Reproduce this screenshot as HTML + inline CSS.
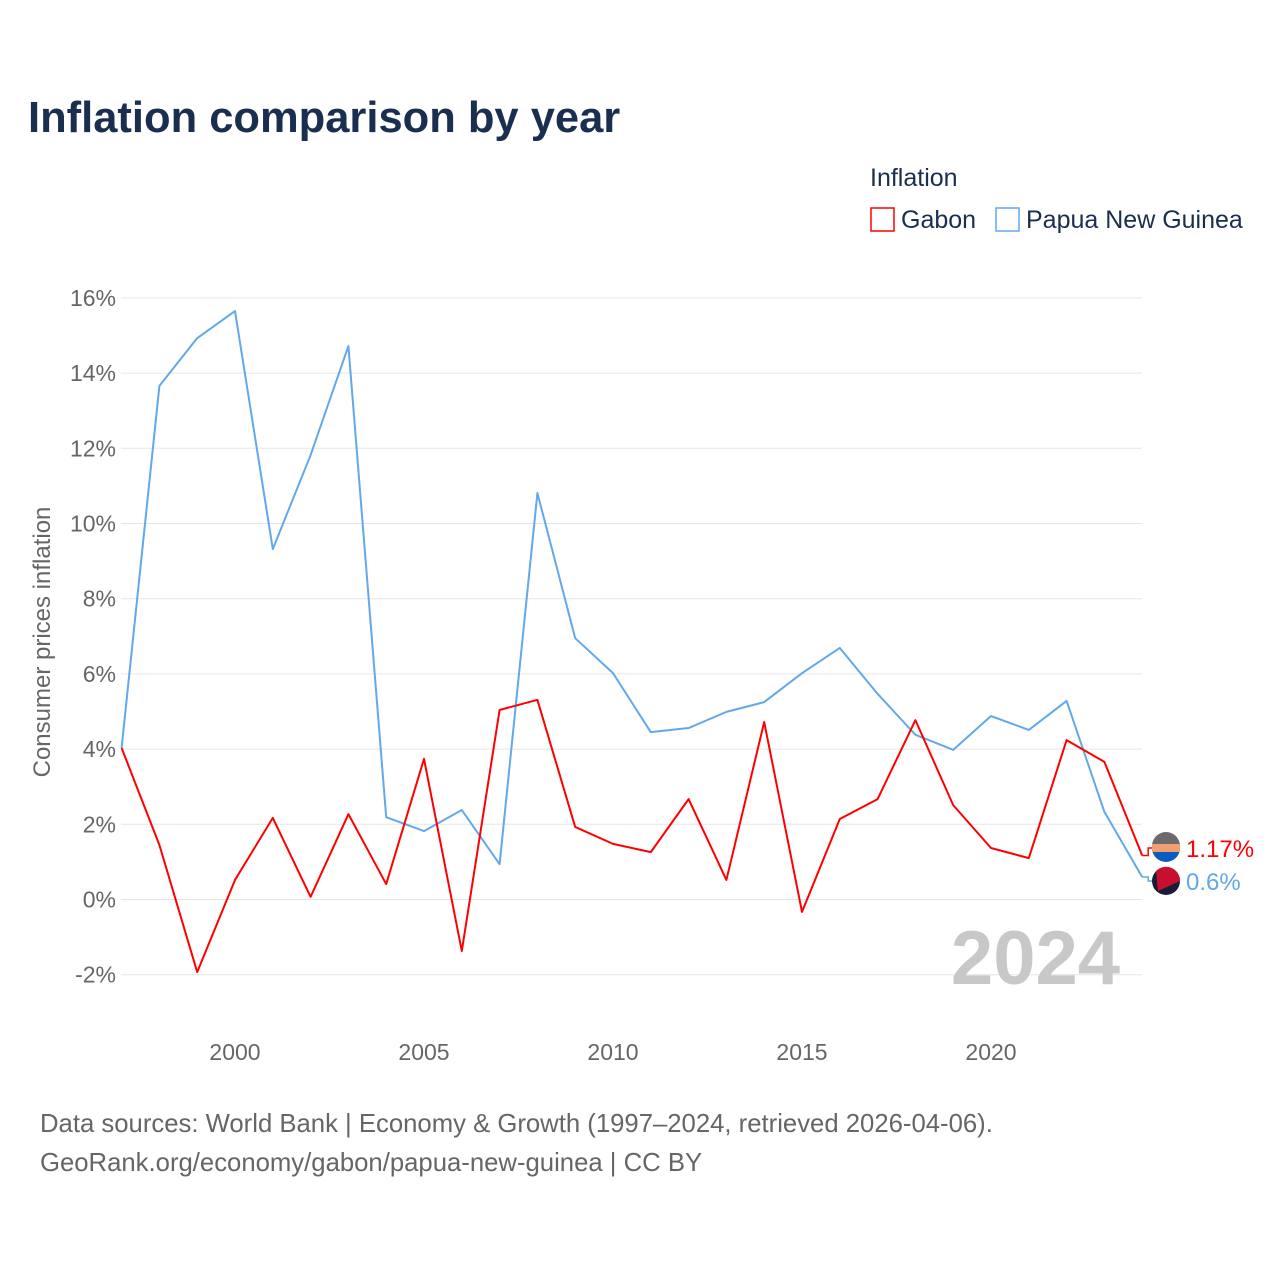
<!DOCTYPE html>
<html><head><meta charset="utf-8"><style>
body{margin:0;background:#fff;font-family:"Liberation Sans",sans-serif}
svg text{font-family:"Liberation Sans",sans-serif}
</style></head><body>
<svg width="1280" height="1280" viewBox="0 0 1280 1280">
<text x="28" y="132" font-size="43.5" font-weight="bold" fill="#1a2e4f">Inflation comparison by year</text>
<text x="870" y="186" font-size="25" fill="#1a2e4f">Inflation</text>
<g><rect x="871" y="208" width="23" height="23" fill="none" stroke="#f00" stroke-width="1.5"/><text x="901" y="228" font-size="25" fill="#1a2e4f">Gabon</text></g>
<g><rect x="996" y="208" width="23" height="23" fill="none" stroke="#62a8ea" stroke-width="1.5"/><text x="1026" y="228" font-size="25" fill="#1a2e4f">Papua New Guinea</text></g>
<g id="grid"></g>
<g id="yt"></g>
<g id="xt"></g>
<text transform="translate(50,642) rotate(-90)" text-anchor="middle" font-size="24" fill="#666">Consumer prices inflation</text>
<text x="1120" y="984" text-anchor="end" font-size="76" font-weight="bold" fill="#c8c8c8">2024</text>
<g id="series"></g>
<text x="40" y="1132" font-size="25.7" fill="#666">Data sources: World Bank | Economy &amp; Growth (1997–2024, retrieved 2026-04-06).</text>
<text x="40" y="1171" font-size="25.7" fill="#666">GeoRank.org/economy/gabon/papua-new-guinea | CC BY</text>
</svg>
<script>
const years=[1997,1998,1999,2000,2001,2002,2003,2004,2005,2006,2007,2008,2009,2010,2011,2012,2013,2014,2015,2016,2017,2018,2019,2020,2021,2022,2023,2024];
const gabon=[4.03,1.45,-1.93,0.52,2.17,0.07,2.27,0.41,3.74,-1.37,5.04,5.31,1.93,1.48,1.26,2.67,0.52,4.72,-0.33,2.14,2.67,4.77,2.51,1.37,1.10,4.24,3.66,1.17];
const png=[4.03,13.66,14.93,15.65,9.32,11.82,14.72,2.19,1.82,2.38,0.94,10.81,6.95,6.02,4.45,4.56,4.99,5.25,6.02,6.69,5.47,4.38,3.98,4.88,4.51,5.28,2.33,0.6];
const yTicks=[-2,0,2,4,6,8,10,12,14,16];
const xTicks=[2000,2005,2010,2015,2020];
const NS="http://www.w3.org/2000/svg";
const X=v=>121.6+(v-1997)*37.8, Y=v=>899.5-v*37.6;
function mk(t,a,p){const e=document.createElementNS(NS,t);for(const k in a)e.setAttribute(k,a[k]);p.appendChild(e);return e;}
const grid=document.getElementById('grid'),yt=document.getElementById('yt'),xt=document.getElementById('xt'),se=document.getElementById('series');
yTicks.forEach(t=>{const l=mk('line',{x1:121,x2:1142,y1:Y(t),y2:Y(t),stroke:'#e6e6e6','stroke-width':1},grid);


const tx=mk('text',{x:116,y:Y(t)+8,'text-anchor':'end','font-size':23,fill:'#666'},yt);tx.textContent=t+'%';

});
xTicks.forEach(t=>{const tx=mk('text',{x:X(t),y:1060,'text-anchor':'middle','font-size':23,fill:'#666'},xt);tx.textContent=t;

});
function line(d,c,n){const p=mk('polyline',{points:d.map((v,i)=>X(years[i])+','+Y(v)).join(' '),fill:'none',stroke:c,'stroke-width':2,'stroke-linejoin':'round'},se);

}
line(png,'#62a8ea','line-png');
line(gabon,'#f00','line-gabon');
function end(v,ly,c,txt,n,flag){const x=X(2024),y=Y(v);
const g=mk('g',{},se);


mk('path',{d:`M${x},${y} L${x+6},${y} L${x+6},${ly} L${x+12},${ly}`,fill:'none',stroke:c,'stroke-width':1.5},g);
if(flag){mk('circle',{cx:1166,cy:ly,r:14,fill:'#0a5bc2'},g);mk('path',{d:`M1152,${ly-2} A14,14 0 0 1 1180,${ly-2} Z`,fill:'#6b6b6b'},g);mk('rect',{x:1152,y:ly-4,width:28,height:8,fill:'#f0a070'},g);}
else{mk('circle',{cx:1166,cy:ly,r:14,fill:'#1a1a3a'},g);mk('path',{d:`M1156,${ly-10} A14,14 0 0 1 1180,${ly} L1158,${ly+10} Z`,fill:'#c8102e'},g);}
const t=mk('text',{x:1186,y:ly+9,'font-size':24,fill:c},g);t.textContent=txt;}
end(gabon[27],848,'#f00','1.17%','end-label-gabon',true);
end(png[27],881,'#62a8ea','0.6%','end-label-png',false);
</script>
</body></html>
